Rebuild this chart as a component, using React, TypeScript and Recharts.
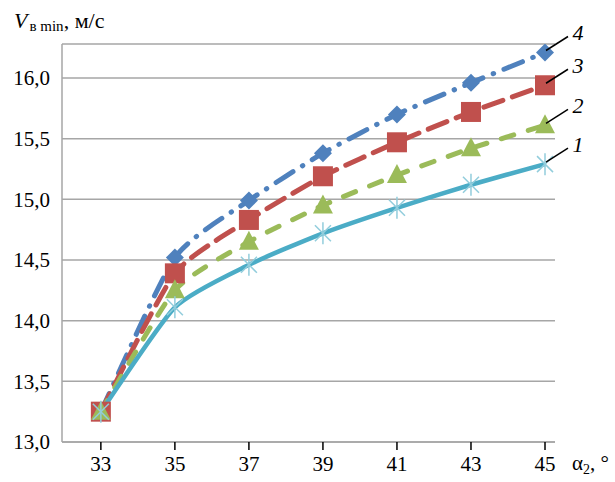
import { LineChart, Line, XAxis, YAxis, CartesianGrid, LabelList } from "recharts";

const angles = [33, 35, 37, 39, 41, 43, 45];
const series1 = [13.25, 14.11, 14.46, 14.72, 14.93, 15.12, 15.29];
const series2 = [13.25, 14.25, 14.65, 14.95, 15.2, 15.42, 15.61];
const series3 = [13.25, 14.39, 14.83, 15.19, 15.47, 15.72, 15.94];
const series4 = [13.25, 14.52, 14.99, 15.38, 15.7, 15.96, 16.21];
const yTicks = [13, 13.5, 14, 14.5, 15, 15.5, 16];
const curveLabels = ["1", "2", "3", "4"];

const data = angles.map((a, i) => ({
  a,
  s1: series1[i],
  s2: series2[i],
  s3: series3[i],
  s4: series4[i],
}));

const FONT = "Liberation Serif";

// light smoothing, close to linear at the sharp bend at 35
const smooth = (context: any) => {
  let pts: number[][] = [];
  const k = 0.1;
  return {
    areaStart() {},
    areaEnd() {},
    lineStart() {
      pts = [];
    },
    point(x: number, y: number) {
      pts.push([+x, +y]);
    },
    lineEnd() {
      if (!pts.length) return;
      context.moveTo(pts[0][0], pts[0][1]);
      for (let i = 0; i < pts.length - 1; i++) {
        const p0 = pts[i - 1] || pts[i];
        const p1 = pts[i];
        const p2 = pts[i + 1];
        const p3 = pts[i + 2] || p2;
        context.bezierCurveTo(
          p1[0] + (p2[0] - p0[0]) * k,
          p1[1] + (p2[1] - p0[1]) * k,
          p2[0] - (p3[0] - p1[0]) * k,
          p2[1] - (p3[1] - p1[1]) * k,
          p2[0],
          p2[1]
        );
      }
    },
  };
};

function Diamond({ cx, cy }: any) {
  if (cx == null || cy == null) return null;
  const r = 9;
  return <path d={`M${cx},${cy - r}L${cx + r},${cy}L${cx},${cy + r}L${cx - r},${cy}Z`} fill="#4f81bd" />;
}

function Square({ cx, cy }: any) {
  if (cx == null || cy == null) return null;
  const r = 10;
  return <rect x={cx - r} y={cy - r} width={2 * r} height={2 * r} fill="#c0504d" />;
}

function Triangle({ cx, cy }: any) {
  if (cx == null || cy == null) return null;
  return <path d={`M${cx},${cy - 11}L${cx + 10},${cy + 8}L${cx - 10},${cy + 8}Z`} fill="#9bbb59" />;
}

function Star({ cx, cy }: any) {
  if (cx == null || cy == null) return null;
  const r = 11;
  const d = 8;
  return (
    <g stroke="#92cddc" strokeWidth={1.5}>
      <line x1={cx} y1={cy - r} x2={cx} y2={cy + r} />
      <line x1={cx - d} y1={cy - d} x2={cx + d} y2={cy + d} />
      <line x1={cx - d} y1={cy + d} x2={cx + d} y2={cy - d} />
    </g>
  );
}

function makeEndLabel(text: string) {
  return (props: any) => {
    const { x, y, index } = props;
    if (index !== angles.length - 1) return null;
    return (
      <g>
        <line x1={x + 1} y1={y - 2} x2={x + 23} y2={y - 16} stroke="#000" strokeWidth={1.5} />
        <text
          x={x + 33}
          y={y - 12}
          textAnchor="middle"
          style={{ fontFamily: FONT, fontStyle: "italic", fontSize: 22 }}
          fill="#000"
        >
          {text}
        </text>
      </g>
    );
  };
}

const fmt = (v: number) => v.toFixed(1).replace(".", ",");

const tickStyle = { fontFamily: FONT, fontSize: 21, fill: "#000", style: { fontFamily: FONT } };

export default function App() {
  return (
    <div style={{ position: "absolute", left: 0, top: 0, background: "#fff", fontFamily: FONT }}>
      <svg width={615} height={482} style={{ position: "absolute", left: 0, top: 0, pointerEvents: "none" }}>
        <text x={14} y={28} style={{ fontFamily: FONT, fontSize: 22 }} fill="#000">
          <tspan fontStyle="italic">V</tspan>
          <tspan fontSize={15} dx={2} dy={3}>в min</tspan>
          <tspan dy={-3}>, м/с</tspan>
        </text>
        <text x={572} y={470} style={{ fontFamily: FONT, fontSize: 21 }} fill="#000">
          <tspan>α</tspan>
          <tspan fontSize={14} dy={4}>2</tspan>
          <tspan dy={-4}>, °</tspan>
        </text>
      </svg>
      <LineChart width={615} height={482} data={data} margin={{ top: 44, right: 60, left: 0, bottom: 10 }}>
        <CartesianGrid vertical={false} stroke="#a6a6a6" strokeWidth={1.5} />
        <XAxis
          dataKey="a"
          type="number"
          domain={[31.95, 45.27]}
          ticks={angles}
          allowDataOverflow
          height={30}
          axisLine={{ stroke: "#a6a6a6", strokeWidth: 1.5 }}
          tickLine={{ stroke: "#000", strokeWidth: 1.5 }}
          tickSize={8}
          tickMargin={6}
          tick={tickStyle}
        />
        <YAxis
          domain={[13, 16.28]}
          ticks={yTicks}
          allowDataOverflow
          width={62}
          axisLine={{ stroke: "#a6a6a6", strokeWidth: 1.5 }}
          tickLine={false}
          tickSize={0}
          tickMargin={12}
          tickFormatter={fmt}
          tick={tickStyle}
        />
        <Line
          dataKey="s4"
          type={smooth as any}
          stroke="#4f81bd"
          strokeWidth={5}
          strokeDasharray="20 11 0.5 11"
          strokeLinecap="round"
          dot={<Diamond />}
          isAnimationActive={false}
        >
          <LabelList dataKey="s4" content={makeEndLabel(curveLabels[3])} />
        </Line>
        <Line
          dataKey="s3"
          type={smooth as any}
          stroke="#c0504d"
          strokeWidth={5}
          strokeDasharray="20 10"
          strokeLinecap="round"
          dot={<Square />}
          isAnimationActive={false}
        >
          <LabelList dataKey="s3" content={makeEndLabel(curveLabels[2])} />
        </Line>
        <Line
          dataKey="s2"
          type={smooth as any}
          stroke="#9bbb59"
          strokeWidth={5}
          strokeDasharray="13 15"
          strokeLinecap="round"
          dot={<Triangle />}
          isAnimationActive={false}
        >
          <LabelList dataKey="s2" content={makeEndLabel(curveLabels[1])} />
        </Line>
        <Line
          dataKey="s1"
          type={smooth as any}
          stroke="#4bacc6"
          strokeWidth={4.5}
          dot={<Star />}
          isAnimationActive={false}
        >
          <LabelList dataKey="s1" content={makeEndLabel(curveLabels[0])} />
        </Line>
      </LineChart>
    </div>
  );
}
